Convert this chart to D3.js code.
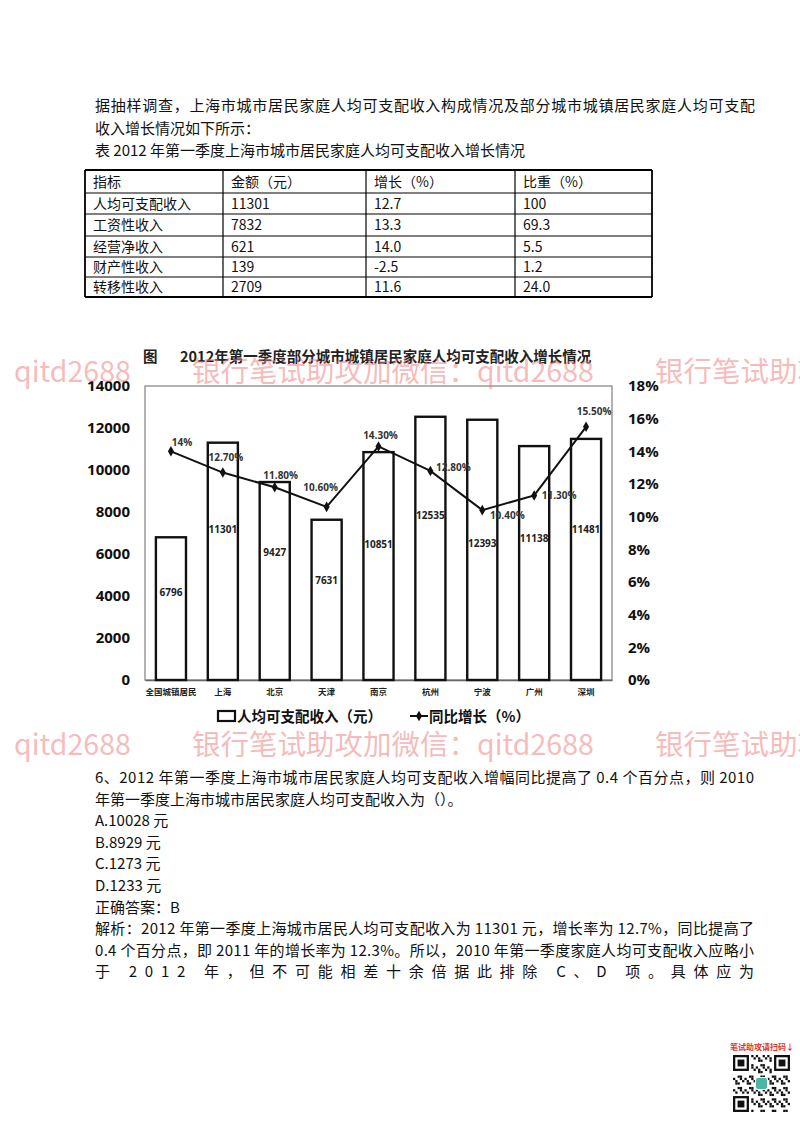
<!DOCTYPE html>
<html lang="zh">
<head>
<meta charset="UTF-8">
<title>2012年第一季度部分城市城镇居民家庭人均可支配收入增长情况</title>
<script src="https://cdn.jsdelivr.net/npm/d3@7"></script>
<style>
  html, body { margin: 0; padding: 0; background: #fff; }
  svg { display: block; }
  .cjk { font-family: "Noto Sans CJK SC", sans-serif; }
  .num { font-family: "Open Sans", sans-serif; font-weight: 700; }
</style>
</head>
<body>
<div id="page"></div>
<script>
// ---- data ----
var introLines = [
  "据抽样调查，上海市城市居民家庭人均可支配收入构成情况及部分城市城镇居民家庭人均可支配",
  "收入增长情况如下所示：",
  "表 2012 年第一季度上海市城市居民家庭人均可支配收入增长情况"
];

var tableHeader = ["指标", "金额（元）", "增长（%）", "比重（%）"];
var tableItems  = ["人均可支配收入", "工资性收入", "经营净收入", "财产性收入", "转移性收入"];
var tableAmount = ["11301", "7832", "621", "139", "2709"];
var tableGrowth = ["12.7", "13.3", "14.0", "-2.5", "11.6"];
var tableShare  = ["100", "69.3", "5.5", "1.2", "24.0"];

var cities = ["全国城镇居民", "上海", "北京", "天津", "南京", "杭州", "宁波", "广州", "深圳"];
var income = [6796, 11301, 9427, 7631, 10851, 12535, 12393, 11138, 11481];
var growth = [14, 12.7, 11.8, 10.6, 14.3, 12.8, 10.4, 11.3, 15.5];
var growthText = ["14%", "12.70%", "11.80%", "10.60%", "14.30%", "12.80%", "10.40%", "11.30%", "15.50%"];
var incomeTicks = [0, 2000, 4000, 6000, 8000, 10000, 12000, 14000];
var growthTicks = [0, 2, 4, 6, 8, 10, 12, 14, 16, 18];

// where the labels sit (hand placed in the original)
var barLabelAt = [4150, 7150, 6050, 4750, 6450, 7850, 6500, 6750, 7150];
var growthLabelOffset = [[11, -9], [3, -15], [6, -12], [-6, -19], [2, -11], [23, -3], [25, 5], [25, 0], [8, -15]];

var questionLines = [
  "6、2012 年第一季度上海市城市居民家庭人均可支配收入增幅同比提高了 0.4 个百分点，则 2010",
  "年第一季度上海市城市居民家庭人均可支配收入为（）。",
  "A.10028 元",
  "B.8929 元",
  "C.1273 元",
  "D.1233 元",
  "正确答案：B",
  "解析：2012 年第一季度上海城市居民人均可支配收入为 11301 元，增长率为 12.7%，同比提高了",
  "0.4 个百分点，即 2011 年的增长率为 12.3%。所以，2010 年第一季度家庭人均可支配收入应略小",
  "于 2012 年，但不可能相差十余倍据此排除 C、D 项。具体应为"
];
var justified = [0, 7, 8, 9];

var watermark = "银行笔试助攻加微信：qitd2688";

// ---- page ----
var svg = d3.select("#page").append("svg")
    .attr("width", 800)
    .attr("height", 1132);

svg.append("rect").attr("width", 800).attr("height", 1132).attr("fill", "#fff");

introLines.forEach(function(t, i) {
    var el = svg.append("text")
        .attr("class", "cjk")
        .attr("x", 95)
        .attr("y", 111 + i * 22.5)
        .attr("font-size", 15)
        .attr("fill", "#111")
        .text(t);
    if (i === 0) el.attr("textLength", 660).attr("lengthAdjust", "spacing");
});

// ---- table ----
var colX = [85, 223, 366, 515, 652];
var rowY = [170, 193, 214, 236, 257, 277, 297];
var table = svg.append("g");

rowY.forEach(function(y, i) {
    table.append("line")
        .attr("x1", colX[0]).attr("x2", colX[4])
        .attr("y1", y).attr("y2", y)
        .attr("stroke", "#000")
        .attr("stroke-width", (i === 0 || i === rowY.length - 1) ? 1.8 : 1.2);
});
colX.forEach(function(x, i) {
    table.append("line")
        .attr("x1", x).attr("x2", x)
        .attr("y1", rowY[0]).attr("y2", rowY[rowY.length - 1])
        .attr("stroke", "#000")
        .attr("stroke-width", (i === 0 || i === colX.length - 1) ? 1.8 : 1.2);
});

var tableRows = [tableHeader].concat(tableItems.map(function(d, i) {
    return [d, tableAmount[i], tableGrowth[i], tableShare[i]];
}));
tableRows.forEach(function(row, r) {
    row.forEach(function(cell, c) {
        table.append("text")
            .attr("class", "cjk")
            .attr("x", colX[c] + 8)
            .attr("y", (rowY[r] + rowY[r + 1]) / 2 + 5)
            .attr("font-size", 14)
            .attr("fill", "#111")
            .text(cell);
    });
});

// ---- chart ----
var plot = { left: 145, right: 612, top: 386, bottom: 680 };
var chart = svg.append("g");

chart.append("text")
    .attr("class", "cjk")
    .attr("x", 143).attr("y", 362)
    .attr("font-size", 14.5).attr("font-weight", 700).attr("fill", "#222")
    .text("图");
chart.append("text")
    .attr("class", "cjk")
    .attr("x", 180).attr("y", 362)
    .attr("font-size", 14.5).attr("font-weight", 700).attr("fill", "#222")
    .text("2012年第一季度部分城市城镇居民家庭人均可支配收入增长情况");

var x = d3.scaleBand()
    .domain(cities)
    .range([plot.left, plot.right])
    .paddingInner(0.42)
    .paddingOuter(0.21);

var yL = d3.scaleLinear().domain([0, 14000]).range([plot.bottom, plot.top]);
var yR = d3.scaleLinear().domain([0, 18]).range([plot.bottom, plot.top]);

chart.append("rect")
    .attr("x", plot.left).attr("y", plot.top)
    .attr("width", plot.right - plot.left)
    .attr("height", plot.bottom - plot.top)
    .attr("fill", "none")
    .attr("stroke", "#8a8a8a")
    .attr("stroke-width", 1.3);

var axL = chart.append("g")
    .attr("transform", "translate(" + plot.left + ",0)")
    .call(d3.axisLeft(yL).tickValues(incomeTicks).tickSize(0).tickPadding(15).tickFormat(d3.format("d")));
axL.select(".domain").remove();
axL.selectAll("text").attr("class", "num").attr("font-size", 15).attr("fill", "#111");

var axR = chart.append("g")
    .attr("transform", "translate(" + plot.right + ",0)")
    .call(d3.axisRight(yR).tickValues(growthTicks).tickSize(0).tickPadding(16).tickFormat(function(d) { return d + "%"; }));
axR.select(".domain").remove();
axR.selectAll("text").attr("class", "num").attr("font-size", 15).attr("fill", "#111");

var axB = chart.append("g")
    .attr("transform", "translate(0," + plot.bottom + ")")
    .call(d3.axisBottom(x).tickSize(0).tickPadding(9));
axB.select(".domain").attr("stroke", "#666").attr("stroke-width", 1.5);
axB.selectAll("text").attr("class", "cjk").attr("font-size", 8.5).attr("font-weight", 700).attr("fill", "#222");

chart.selectAll("rect.bar")
    .data(income)
    .enter().append("rect")
    .attr("class", "bar")
    .attr("x", function(d, i) { return x(cities[i]); })
    .attr("y", function(d) { return yL(d); })
    .attr("width", x.bandwidth())
    .attr("height", function(d) { return yL(0) - yL(d); })
    .attr("fill", "#fff")
    .attr("stroke", "#111")
    .attr("stroke-width", 2.4);

chart.selectAll("text.barlabel")
    .data(income)
    .enter().append("text")
    .attr("class", "num barlabel")
    .attr("x", function(d, i) { return x(cities[i]) + x.bandwidth() / 2; })
    .attr("y", function(d, i) { return yL(barLabelAt[i]); })
    .attr("dy", "0.35em")
    .attr("text-anchor", "middle")
    .attr("font-size", 10)
    .attr("fill", "#222")
    .text(function(d) { return d; });

var line = d3.line()
    .x(function(d, i) { return x(cities[i]) + x.bandwidth() / 2; })
    .y(function(d) { return yR(d); });

chart.append("path")
    .datum(growth)
    .attr("d", line)
    .attr("fill", "none")
    .attr("stroke", "#111")
    .attr("stroke-width", 2);

chart.selectAll("path.marker")
    .data(growth)
    .enter().append("path")
    .attr("class", "marker")
    .attr("d", d3.symbol(d3.symbolDiamond, 32))
    .attr("transform", function(d, i) {
        return "translate(" + (x(cities[i]) + x.bandwidth() / 2) + "," + yR(d) + ")";
    })
    .attr("fill", "#111");

chart.selectAll("text.growthlabel")
    .data(growth)
    .enter().append("text")
    .attr("class", "num growthlabel")
    .attr("x", function(d, i) { return x(cities[i]) + x.bandwidth() / 2 + growthLabelOffset[i][0]; })
    .attr("y", function(d, i) { return yR(d) + growthLabelOffset[i][1]; })
    .attr("dy", "0.35em")
    .attr("text-anchor", "middle")
    .attr("font-size", 10)
    .attr("fill", "#333")
    .text(function(d, i) { return growthText[i]; });

// legend
var legend = chart.append("g").attr("transform", "translate(0,716)");
legend.append("rect")
    .attr("x", 218).attr("y", -5).attr("width", 17).attr("height", 10)
    .attr("fill", "#fff").attr("stroke", "#111").attr("stroke-width", 2.2);
legend.append("text")
    .attr("class", "cjk").attr("x", 237).attr("y", 5.5)
    .attr("font-size", 14.5).attr("font-weight", 700).attr("fill", "#111")
    .text("人均可支配收入（元）");
legend.append("line")
    .attr("x1", 410).attr("x2", 428).attr("y1", 0).attr("y2", 0)
    .attr("stroke", "#111").attr("stroke-width", 2);
legend.append("path")
    .attr("d", d3.symbol(d3.symbolDiamond, 32))
    .attr("transform", "translate(419,0)")
    .attr("fill", "#111");
legend.append("text")
    .attr("class", "cjk").attr("x", 429).attr("y", 5.5)
    .attr("font-size", 14.5).attr("font-weight", 700).attr("fill", "#111")
    .text("同比增长（%）");

// ---- question ----
questionLines.forEach(function(t, i) {
    var el = svg.append("text")
        .attr("class", "cjk")
        .attr("x", 95)
        .attr("y", 783 + i * 21.6)
        .attr("font-size", 15)
        .attr("fill", "#111")
        .text(t);
    if (justified.indexOf(i) >= 0) el.attr("textLength", 659).attr("lengthAdjust", "spacing");
});

// ---- QR corner ----
var qr = svg.append("g").attr("transform", "translate(733,1055)");
svg.append("text")
    .attr("class", "cjk")
    .attr("x", 730).attr("y", 1050)
    .attr("font-size", 8).attr("font-weight", 700).attr("fill", "#e0342f")
    .text("笔试助攻请扫码↓");
var n = 25, m = 57 / n;
function inFinder(r, c) {
    return (r < 8 && c < 8) || (r < 8 && c >= n - 8) || (r >= n - 8 && c < 8);
}
for (var r = 0; r < n; r++) {
    for (var c = 0; c < n; c++) {
        if (inFinder(r, c)) continue;
        if ((r * r * 3 + c * 7 + r * c) % 5 < 2) {
            qr.append("rect").attr("x", c * m).attr("y", r * m).attr("width", m).attr("height", m).attr("fill", "#111");
        }
    }
}
[[0, 0], [0, n - 7], [n - 7, 0]].forEach(function(p) {
    qr.append("rect").attr("x", p[1] * m + m / 2).attr("y", p[0] * m + m / 2)
        .attr("width", 6 * m).attr("height", 6 * m)
        .attr("fill", "none").attr("stroke", "#111").attr("stroke-width", m);
    qr.append("rect").attr("x", (p[1] + 2) * m).attr("y", (p[0] + 2) * m)
        .attr("width", 3 * m).attr("height", 3 * m).attr("fill", "#111");
});
qr.append("rect").attr("x", 22).attr("y", 22).attr("width", 13).attr("height", 13)
    .attr("rx", 2).attr("fill", "#fff");
qr.append("rect").attr("x", 23).attr("y", 23).attr("width", 11).attr("height", 11)
    .attr("rx", 2).attr("fill", "#4db6a2");

// ---- watermark ----
[372, 745].forEach(function(y) {
    [-271, 192, 655].forEach(function(x0) {
        svg.append("text")
            .attr("class", "cjk")
            .attr("x", x0).attr("y", y + 10)
            .attr("font-size", 28.5)
            .attr("fill", "#f07f7f")
            .attr("fill-opacity", 0.55)
            .text(watermark);
    });
});
</script>
</body>
</html>
